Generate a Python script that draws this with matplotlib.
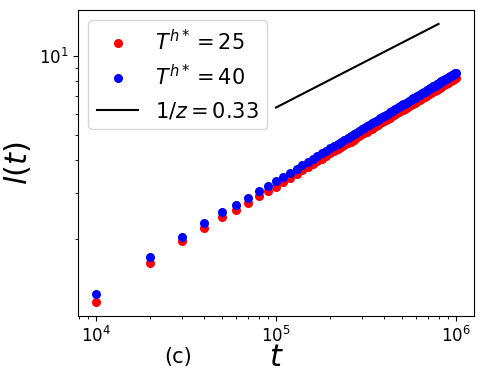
import numpy as np
import matplotlib
matplotlib.use('Agg')
import matplotlib.pyplot as plt

# times t = k * 1e4, k = 1..100
t = np.arange(1, 101) * 1e4

# T^{h*} = 25 (red)
l_25 = [1.147, 1.62, 1.96, 2.20, 2.42, 2.58, 2.74, 2.91, 3.04, 3.17,
        3.30, 3.42, 3.54, 3.65, 3.76, 3.85, 3.96, 4.05, 4.14, 4.24,
        4.32, 4.40, 4.48, 4.56, 4.64, 4.71, 4.79, 4.87, 4.93, 5.01,
        5.08, 5.14, 5.21, 5.28, 5.33, 5.40, 5.46, 5.53, 5.58, 5.64,
        5.70, 5.76, 5.81, 5.87, 5.93, 5.98, 6.03, 6.08, 6.14, 6.19,
        6.24, 6.29, 6.34, 6.39, 6.43, 6.48, 6.53, 6.58, 6.63, 6.67,
        6.72, 6.77, 6.81, 6.85, 6.90, 6.94, 6.99, 7.03, 7.07, 7.11,
        7.16, 7.20, 7.24, 7.28, 7.32, 7.36, 7.40, 7.44, 7.49, 7.52,
        7.56, 7.60, 7.64, 7.68, 7.71, 7.75, 7.79, 7.82, 7.86, 7.90,
        7.93, 7.97, 8.00, 8.04, 8.08, 8.11, 8.15, 8.18, 8.21, 8.26]

# T^{h*} = 40 (blue)
l_40 = [1.235, 1.70, 2.04, 2.30, 2.53, 2.70, 2.87, 3.05, 3.18, 3.32,
        3.45, 3.58, 3.70, 3.82, 3.93, 4.03, 4.14, 4.24, 4.33, 4.43,
        4.52, 4.60, 4.69, 4.77, 4.85, 4.93, 5.01, 5.09, 5.16, 5.24,
        5.31, 5.38, 5.45, 5.52, 5.58, 5.65, 5.71, 5.78, 5.84, 5.90,
        5.96, 6.02, 6.08, 6.14, 6.20, 6.25, 6.31, 6.36, 6.42, 6.47,
        6.53, 6.58, 6.63, 6.68, 6.73, 6.78, 6.83, 6.88, 6.93, 6.98,
        7.03, 7.08, 7.12, 7.17, 7.22, 7.26, 7.31, 7.35, 7.40, 7.44,
        7.49, 7.53, 7.57, 7.62, 7.66, 7.70, 7.74, 7.78, 7.83, 7.87,
        7.91, 7.95, 7.99, 8.03, 8.07, 8.11, 8.15, 8.18, 8.22, 8.26,
        8.30, 8.34, 8.37, 8.41, 8.45, 8.48, 8.52, 8.56, 8.59, 8.63]

# guide line, slope 1/z
line_t = [1e5, 8e5]
line_l = [6.35, 13.25]

fig = plt.figure(figsize=(4.89, 3.78), dpi=100)
ax = fig.add_axes([0.1595, 0.164, 0.8098, 0.8095])

ax.plot(t, l_25, 'o', color='red', ms=5.5, label=r'$T^{h*}=25$')
ax.plot(t, l_40, 'o', color='blue', ms=5.5, label=r'$T^{h*}=40$')
ax.plot(line_t, line_l, '-', color='black', lw=1.5, label=r'$1/z=0.33$')

ax.set_xscale('log')
ax.set_yscale('log')
ax.tick_params(labelsize=12)
ax.set_xlabel(r'$t$', fontsize=22, labelpad=-2)
ax.set_ylabel(r'$l(t)$', fontsize=22)
ax.legend(loc='upper left', fontsize=15)

fig.text(178 / 489, 1 - 357 / 378, '(c)', ha='center', va='center', fontsize=15)

fig.savefig('out.png', dpi=100)
